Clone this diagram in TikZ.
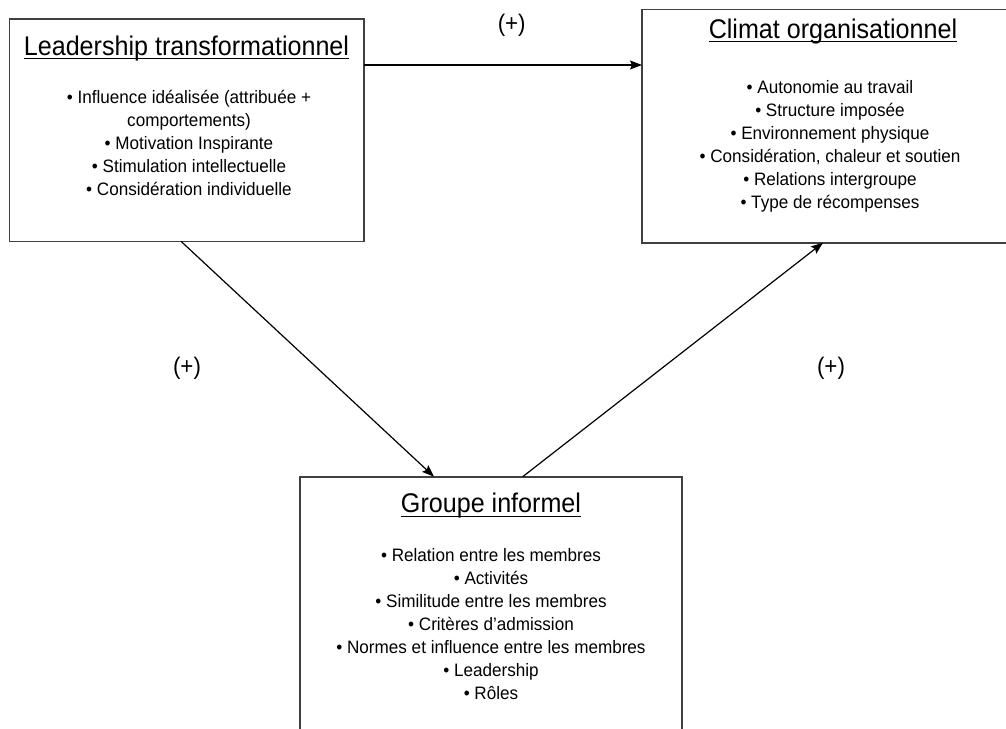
\documentclass[tikz,border=0pt]{standalone}
\usepackage{fontspec}
\setmainfont[FakeStretch=0.93]{Liberation Sans}
\newfontfamily\bodyfont[FakeStretch=0.95]{Liberation Sans}
\usetikzlibrary{arrows.meta}
\tikzset{
  boxnode/.style={draw=black!75, line width=1.6pt, fill=none, inner sep=0pt, outer sep=0pt},
  titletext/.style={inner sep=0pt, outer sep=0pt, anchor=base, font=\fontsize{27}{30}\selectfont},
  bodytext/.style={inner sep=0pt, outer sep=0pt, anchor=base, align=center, font=\bodyfont\fontsize{18}{22.9}\selectfont},
  uline/.style={line width=1.4pt, black},
  arr/.style={line width=1.2pt, black, -{Stealth[length=12pt,width=9pt,inset=2pt]}},
  signlabel/.style={inner sep=0pt, font=\fontsize{24}{28}\selectfont}
}
\begin{document}
\begin{tikzpicture}[x=1pt,y=-1pt]
\useasboundingbox (0,0) rectangle (1006,728);
\clip (0,0) rectangle (1006,728);
\fill[white] (0,0) rectangle (1006,728);
% boxes
\node[boxnode, minimum width=354.4pt, minimum height=222.6pt] (lt) at (186.5,130) {};
\node[boxnode, minimum width=380pt, minimum height=233.4pt] (co) at (832,126) {};
\node[boxnode, minimum width=382pt, minimum height=270pt] (gi) at (491,611.7) {};
% titles
\node[titletext] (t1) at (186.5,55) {Leadership transformationnel};
\draw[uline] ([yshift=-3.5pt]t1.base west) -- ([yshift=-3.5pt]t1.base east);
\node[titletext] (t2) at (833,38) {Climat organisationnel};
\draw[uline] ([yshift=-3.5pt]t2.base west) -- ([yshift=-3.5pt]t2.base east);
\node[titletext] (t3) at (491,512.7) {Groupe informel};
\draw[uline] ([yshift=-3.5pt]t3.base west) -- ([yshift=-3.5pt]t3.base east);
% bodies (anchor = baseline of last line)
\node[bodytext] (b1) at (189,195) {• Influence idéalisée (attribuée +\\comportements)\\• Motivation Inspirante\\• Stimulation intellectuelle\\• Considération individuelle};
\node[bodytext] (b2) at (830,208) {• Autonomie au travail\\• Structure imposée\\• Environnement physique\\• Considération, chaleur et soutien\\• Relations intergroupe\\• Type de récompenses};
\node[bodytext] (b3) at (491,699) {• Relation entre les membres\\• Activités\\• Similitude entre les membres\\• Critères d’admission\\• Normes et influence entre les membres\\• Leadership\\• Rôles};
% connectors
\coordinate (topy) at (0,65);
\draw[arr] (lt.east |- topy) -- (co.west |- topy);
\draw[arr] ([xshift=-5.5pt]lt.south) -- ([xshift=-57pt]gi.north);
\draw[arr] ([xshift=31.7pt]gi.north) -- ([xshift=-9pt]co.south);
% labels
\node[signlabel] (p1) at (511.7,25) {(+)};
\node[signlabel] (p2) at (187,368) {(+)};
\node[signlabel] (p3) at (831,368) {(+)};
\end{tikzpicture}
\end{document}
